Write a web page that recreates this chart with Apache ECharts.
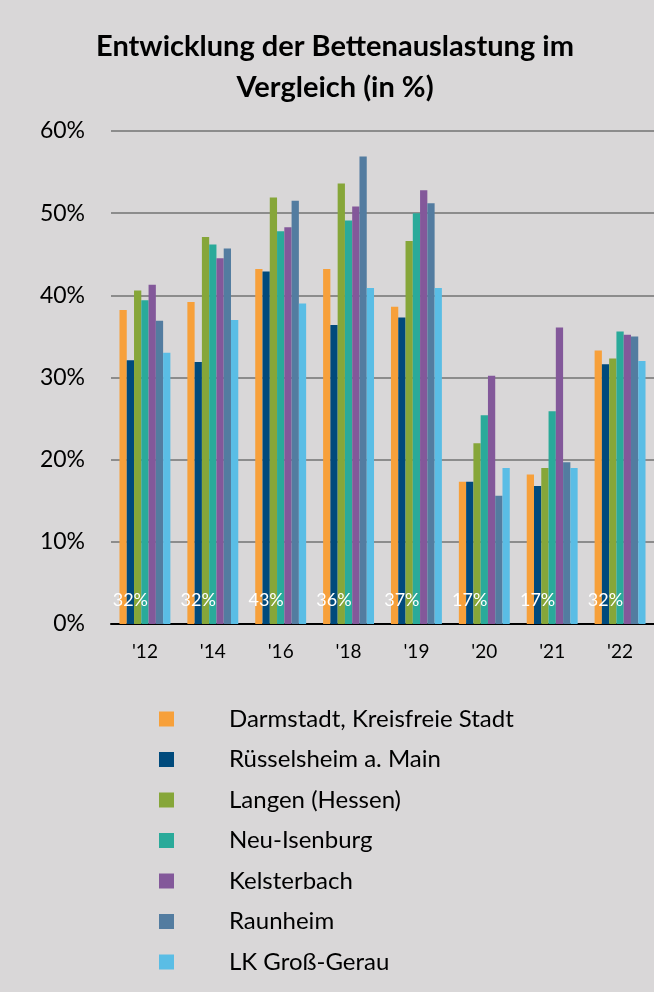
<!DOCTYPE html>
<html>
<head>
<meta charset="utf-8">
<script src="https://cdn.jsdelivr.net/npm/echarts@6/dist/echarts.min.js"></script>
<style>
  html, body { margin: 0; padding: 0; background: #d9d7d8; }
  #chart { width: 654px; height: 992px; }
</style>
</head>
<body>
<div id="chart"></div>
<script>
// Bettenauslastung (%) je Jahr
const years = ["'12", "'14", "'16", "'18", "'19", "'20", "'21", "'22"];
const darmstadt    = [38.2, 39.2, 43.2, 43.2, 38.6, 17.3, 18.2, 33.3];
const ruesselsheim = [32.1, 31.9, 42.9, 36.4, 37.3, 17.3, 16.8, 31.6];
const langen       = [40.6, 47.1, 51.9, 53.6, 46.6, 22.0, 19.0, 32.3];
const neuIsenburg  = [39.4, 46.2, 47.8, 49.1, 50.0, 25.4, 25.9, 35.6];
const kelsterbach  = [41.3, 44.5, 48.3, 50.8, 52.8, 30.2, 36.1, 35.2];
const raunheim     = [36.9, 45.7, 51.5, 56.9, 51.2, 15.6, 19.7, 35.0];
const grossGerau   = [33.0, 37.0, 39.0, 40.9, 40.9, 19.0, 19.0, 32.0];
const yTicks = [0, 10, 20, 30, 40, 50, 60];

const names = [
  'Darmstadt, Kreisfreie Stadt',
  'Rüsselsheim a. Main',
  'Langen (Hessen)',
  'Neu-Isenburg',
  'Kelsterbach',
  'Raunheim',
  'LK Groß-Gerau'
];
const values = [darmstadt, ruesselsheim, langen, neuIsenburg, kelsterbach, raunheim, grossGerau];
const colors = ['#f7a03a', '#004a7c', '#86a639', '#2aaa9a', '#83589a', '#537ca0', '#5abde5'];

const FONT = 'Lato, "Open Sans", sans-serif';

const series = names.map((name, i) => {
  const s = {
    name: name,
    type: 'bar',
    data: values[i],
    barGap: '0%',
    barCategoryGap: '25%',
    itemStyle: { color: colors[i] }
  };
  if (i === 1) {
    // Rüsselsheim values written at the foot of its bars
    s.label = {
      show: true,
      position: 'insideBottom',
      distance: 15,
      color: '#ffffff',
      fontSize: 18,
      fontFamily: FONT,
      formatter: p => Math.round(p.value) + '%'
    };
  }
  return s;
});

const chart = echarts.init(document.getElementById('chart'), null, { renderer: 'canvas' });
chart.setOption({
  backgroundColor: '#d9d7d8',
  animation: false,
  color: colors,
  title: {
    text: 'Entwicklung der Bettenauslastung im\nVergleich (in %)',
    left: 330,
    top: 21,
    textAlign: 'center',
    textStyle: {
      fontFamily: FONT,
      fontSize: 29,
      fontWeight: 'bold',
      color: '#000000',
      lineHeight: 41
    }
  },
  grid: { left: 111, right: 0, top: 131, bottom: 368, containLabel: false },
  xAxis: {
    type: 'category',
    data: years,
    axisLine: { lineStyle: { color: '#000000', width: 2 } },
    axisTick: { show: false },
    axisLabel: { color: '#000000', fontSize: 19, fontFamily: FONT, margin: 18 }
  },
  yAxis: {
    type: 'value',
    min: yTicks[0],
    max: yTicks[yTicks.length - 1],
    interval: 10,
    axisLine: { show: false },
    axisTick: { show: false },
    splitLine: { lineStyle: { color: '#8c8c8c', width: 2 } },
    axisLabel: {
      color: '#000000',
      fontSize: 23,
      fontFamily: FONT,
      margin: 26,
      formatter: v => v + '%'
    }
  },
  legend: {
    orient: 'vertical',
    left: 154,
    top: 702,
    height: 285,
    itemWidth: 15,
    itemHeight: 15,
    itemGap: 16.5,
    icon: 'rect',
    data: names,
    textStyle: {
      color: '#000000',
      fontSize: 24,
      fontFamily: FONT,
      lineHeight: 24,
      padding: [0, 0, 0, 50]
    }
  },
  series: series
});
</script>
</body>
</html>
